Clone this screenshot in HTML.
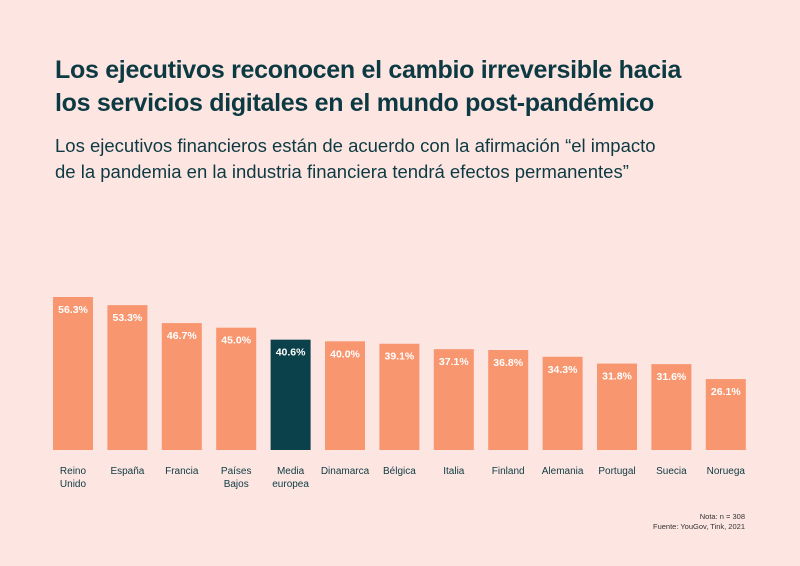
<!DOCTYPE html>
<html><head><meta charset="utf-8"><style>
body{margin:0;width:800px;height:566px;background:#fde5e2;font-family:"Liberation Sans",sans-serif;overflow:hidden;position:relative;color:#0d3a42}
.t{position:absolute;left:55px;top:54px;font-size:25px;font-weight:bold;line-height:33px;letter-spacing:-0.3px}
.s{position:absolute;left:55px;top:133px;font-size:18.5px;line-height:26px}
.n{position:absolute;right:55px;top:512px;font-size:7.5px;text-align:right;line-height:10px;color:#333}
</style></head><body>
<div class="t">Los ejecutivos reconocen el cambio irreversible hacia<br>los servicios digitales en el mundo post-pandémico</div>
<div class="s">Los ejecutivos financieros están de acuerdo con la afirmación “el impacto<br>de la pandemia en la industria financiera tendrá efectos permanentes”</div>
<svg id="c" width="800" height="566" style="position:absolute;left:0;top:0"></svg>
<div class="n">Nota: n = 308<br>Fuente: YouGov, Tink, 2021</div>
<script>
const categories=[["Reino","Unido"],["España"],["Francia"],["Países","Bajos"],["Media","europea"],["Dinamarca"],["Bélgica"],["Italia"],["Finland"],["Alemania"],["Portugal"],["Suecia"],["Noruega"]];
const values=[56.3,53.3,46.7,45.0,40.6,40.0,39.1,37.1,36.8,34.3,31.8,31.6,26.1];
const highlight=[4];
const ns="http://www.w3.org/2000/svg",svg=document.getElementById('c');
const base=450,k=153/56.3,x0=53,step=54.4,w=40;
const xs=i=>x0+i*step, ys=v=>base-v*k;
values.forEach((v,i)=>{
 const r=document.createElementNS(ns,'rect');
 r.setAttribute('x',xs(i));r.setAttribute('y',ys(v));r.setAttribute('width',w);r.setAttribute('height',base-ys(v));
 r.setAttribute('fill',highlight.includes(i)?'#0b414a':'#f8966f');
 
 
 svg.appendChild(r);
 const t=document.createElementNS(ns,'text');
 t.setAttribute('x',xs(i)+w/2);t.setAttribute('y',ys(v)+16);t.setAttribute('text-anchor','middle');
 t.setAttribute('font-size','10.5');t.setAttribute('font-weight','bold');t.setAttribute('fill','#fff');
 t.textContent=v.toFixed(1)+'%';
 
 
 svg.appendChild(t);
 categories[i].forEach((l,j)=>{
  const c=document.createElementNS(ns,'text');
  c.setAttribute('x',xs(i)+w/2);c.setAttribute('y',474+j*13);c.setAttribute('text-anchor','middle');
  c.setAttribute('font-size','10');c.setAttribute('fill','#0d3a42');
  c.textContent=l;
  
  
  svg.appendChild(c);
 });
});
</script>
</body></html>
